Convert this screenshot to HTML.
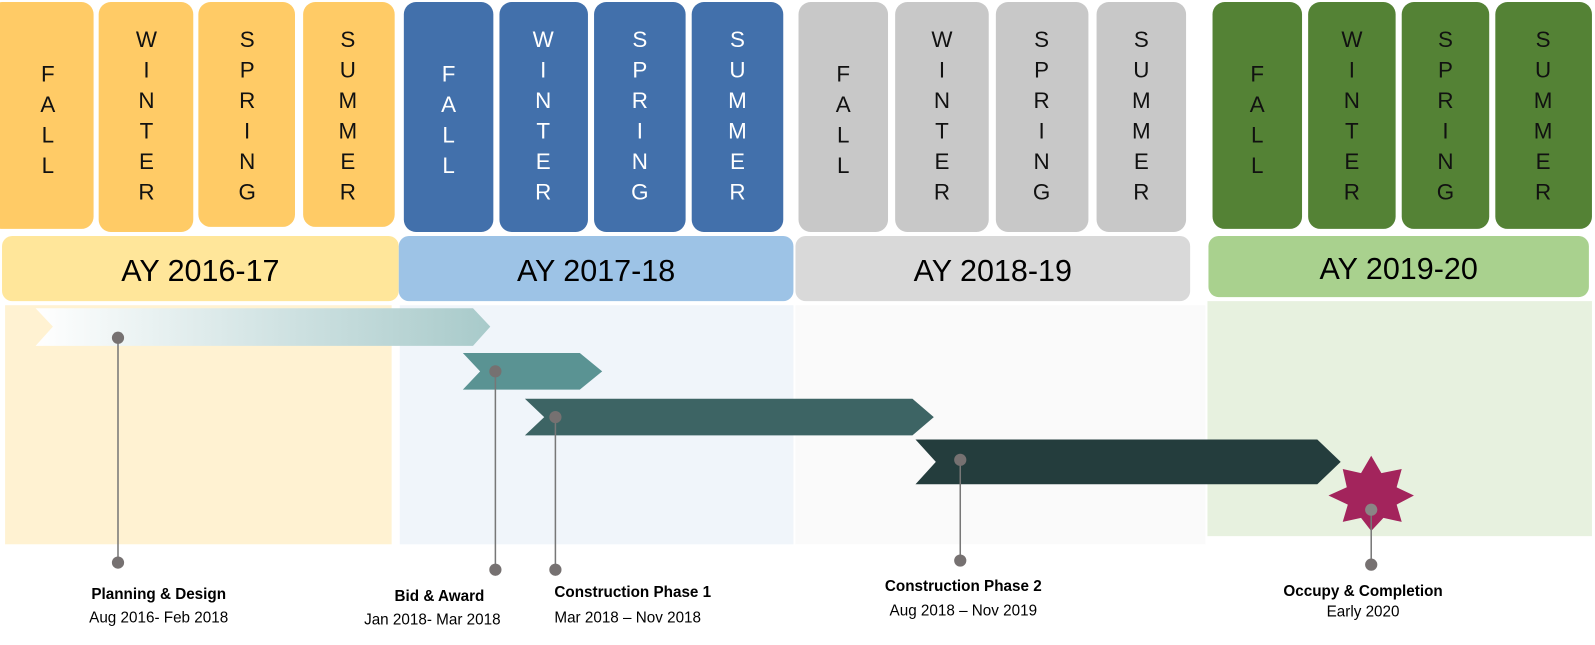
<!DOCTYPE html>
<html><head><meta charset="utf-8"><style>
html,body{margin:0;padding:0;background:#fff;overflow:hidden;}
svg{display:block;font-family:"Liberation Sans",sans-serif;}
</style></head><body>
<svg width="1595" height="645" viewBox="0 0 1568 634" preserveAspectRatio="none" xmlns="http://www.w3.org/2000/svg">
<defs>
<linearGradient id="g1" x1="0" x2="1" y1="0" y2="0">
<stop offset="0" stop-color="#ffffff"/><stop offset="1" stop-color="#a8caca"/>
</linearGradient>
</defs>
<rect x="5" y="300" width="380" height="235" fill="#FFF2D2"/>
<rect x="393" y="300" width="387" height="235" fill="#F0F5FA"/>
<rect x="782" y="300" width="403" height="235" fill="#FAFAFA"/>
<rect x="1187" y="296" width="378" height="231" fill="#E7F1DF"/>
<g fill="#FFCB66">
<rect x="-10" y="2" width="102" height="223" rx="12"/>
<rect x="97" y="2" width="93" height="226" rx="12"/>
<rect x="195" y="2" width="95" height="221" rx="12"/>
<rect x="298" y="2" width="90" height="221" rx="12"/>
</g>
<g fill="#4270AB">
<rect x="397" y="2" width="88" height="226" rx="12"/>
<rect x="491" y="2" width="87" height="226" rx="12"/>
<rect x="584" y="2" width="90" height="226" rx="12"/>
<rect x="680" y="2" width="90" height="226" rx="12"/>
</g>
<g fill="#C8C8C8">
<rect x="785" y="2" width="88" height="226" rx="12"/>
<rect x="880" y="2" width="92" height="226" rx="12"/>
<rect x="979" y="2" width="91" height="226" rx="12"/>
<rect x="1078" y="2" width="88" height="226" rx="12"/>
</g>
<g fill="#548235">
<rect x="1192" y="2" width="88" height="223" rx="12"/>
<rect x="1286" y="2" width="86" height="223" rx="12"/>
<rect x="1378" y="2" width="86" height="223" rx="12"/>
<rect x="1470" y="2" width="95" height="223" rx="12"/>
</g>
<g font-size="22" text-anchor="middle" fill="#111">
<text><tspan x="47" y="80">F</tspan><tspan x="47" y="110">A</tspan><tspan x="47" y="140">L</tspan><tspan x="47" y="170">L</tspan></text>
<text><tspan x="144" y="46">W</tspan><tspan x="144" y="76">I</tspan><tspan x="144" y="106">N</tspan><tspan x="144" y="136">T</tspan><tspan x="144" y="166">E</tspan><tspan x="144" y="196">R</tspan></text>
<text><tspan x="243" y="46">S</tspan><tspan x="243" y="76">P</tspan><tspan x="243" y="106">R</tspan><tspan x="243" y="136">I</tspan><tspan x="243" y="166">N</tspan><tspan x="243" y="196">G</tspan></text>
<text><tspan x="342" y="46">S</tspan><tspan x="342" y="76">U</tspan><tspan x="342" y="106">M</tspan><tspan x="342" y="136">M</tspan><tspan x="342" y="166">E</tspan><tspan x="342" y="196">R</tspan></text>
</g>
<g font-size="22" text-anchor="middle" fill="#fff">
<text><tspan x="441" y="80">F</tspan><tspan x="441" y="110">A</tspan><tspan x="441" y="140">L</tspan><tspan x="441" y="170">L</tspan></text>
<text><tspan x="534" y="46">W</tspan><tspan x="534" y="76">I</tspan><tspan x="534" y="106">N</tspan><tspan x="534" y="136">T</tspan><tspan x="534" y="166">E</tspan><tspan x="534" y="196">R</tspan></text>
<text><tspan x="629" y="46">S</tspan><tspan x="629" y="76">P</tspan><tspan x="629" y="106">R</tspan><tspan x="629" y="136">I</tspan><tspan x="629" y="166">N</tspan><tspan x="629" y="196">G</tspan></text>
<text><tspan x="725" y="46">S</tspan><tspan x="725" y="76">U</tspan><tspan x="725" y="106">M</tspan><tspan x="725" y="136">M</tspan><tspan x="725" y="166">E</tspan><tspan x="725" y="196">R</tspan></text>
</g>
<g font-size="22" text-anchor="middle" fill="#111">
<text><tspan x="829" y="80">F</tspan><tspan x="829" y="110">A</tspan><tspan x="829" y="140">L</tspan><tspan x="829" y="170">L</tspan></text>
<text><tspan x="926" y="46">W</tspan><tspan x="926" y="76">I</tspan><tspan x="926" y="106">N</tspan><tspan x="926" y="136">T</tspan><tspan x="926" y="166">E</tspan><tspan x="926" y="196">R</tspan></text>
<text><tspan x="1024" y="46">S</tspan><tspan x="1024" y="76">P</tspan><tspan x="1024" y="106">R</tspan><tspan x="1024" y="136">I</tspan><tspan x="1024" y="166">N</tspan><tspan x="1024" y="196">G</tspan></text>
<text><tspan x="1122" y="46">S</tspan><tspan x="1122" y="76">U</tspan><tspan x="1122" y="106">M</tspan><tspan x="1122" y="136">M</tspan><tspan x="1122" y="166">E</tspan><tspan x="1122" y="196">R</tspan></text>
<text><tspan x="1236" y="80">F</tspan><tspan x="1236" y="110">A</tspan><tspan x="1236" y="140">L</tspan><tspan x="1236" y="170">L</tspan></text>
<text><tspan x="1329" y="46">W</tspan><tspan x="1329" y="76">I</tspan><tspan x="1329" y="106">N</tspan><tspan x="1329" y="136">T</tspan><tspan x="1329" y="166">E</tspan><tspan x="1329" y="196">R</tspan></text>
<text><tspan x="1421" y="46">S</tspan><tspan x="1421" y="76">P</tspan><tspan x="1421" y="106">R</tspan><tspan x="1421" y="136">I</tspan><tspan x="1421" y="166">N</tspan><tspan x="1421" y="196">G</tspan></text>
<text><tspan x="1517" y="46">S</tspan><tspan x="1517" y="76">U</tspan><tspan x="1517" y="106">M</tspan><tspan x="1517" y="136">M</tspan><tspan x="1517" y="166">E</tspan><tspan x="1517" y="196">R</tspan></text>
</g>
<rect x="2" y="232" width="390" height="64" rx="10" fill="#FFE69A"/>
<rect x="392" y="232" width="388" height="64" rx="10" fill="#9DC3E6"/>
<rect x="782" y="232" width="388" height="64" rx="10" fill="#D9D9D9"/>
<rect x="1188" y="232" width="374" height="60" rx="10" fill="#A9D18E"/>
<g font-size="30" text-anchor="middle" fill="#000">
<text x="197" y="276">AY 2016-17</text>
<text x="586" y="276">AY 2017-18</text>
<text x="976" y="276">AY 2018-19</text>
<text x="1375" y="274">AY 2019-20</text>
</g>
<polygon points="35,303 465,303 482,321 465,340 35,340 52,321" fill="url(#g1)"/>
<polygon points="455,347 570,347 592,365 570,383 455,383 472,365" fill="#5A9393"/>
<polygon points="516,392 897,392 918,410 897,428 516,428 535,410" fill="#3D6464"/>
<polygon points="900,432 1295,432 1318,454 1295,476 900,476 920,454" fill="#243D3D"/>
<polygon fill="#A3245C" points="1348,448 1358,465 1378,461 1373,479 1390,487 1373,496 1378,513 1360,509 1348,522 1338,509 1320,513 1325,496 1306,487 1324,479 1320,461 1338,465"/>
<g stroke="#777" stroke-width="1.5">
<line x1="116" y1="332" x2="116" y2="553"/>
<line x1="487" y1="365" x2="487" y2="560"/>
<line x1="546" y1="410" x2="546" y2="560"/>
<line x1="944" y1="452" x2="944" y2="551"/>
<line x1="1348" y1="501" x2="1348" y2="555"/>
</g>
<g fill="#767171">
<circle cx="116" cy="332" r="6"/><circle cx="116" cy="553" r="6"/>
<circle cx="487" cy="365" r="6"/><circle cx="487" cy="560" r="6"/>
<circle cx="546" cy="410" r="6"/><circle cx="546" cy="560" r="6"/>
<circle cx="944" cy="452" r="6"/><circle cx="944" cy="551" r="6"/>
<circle cx="1348" cy="501" r="6" fill="#8a8585"/><circle cx="1348" cy="555" r="6"/>
</g>
<g font-size="15" fill="#000">
<text x="156" y="589" text-anchor="middle" font-weight="bold">Planning &amp; Design</text>
<text x="156" y="612" text-anchor="middle">Aug 2016- Feb 2018</text>
<text x="432" y="591" text-anchor="middle" font-weight="bold">Bid &amp; Award</text>
<text x="425" y="614" text-anchor="middle">Jan 2018- Mar 2018</text>
<text x="545" y="587" font-weight="bold">Construction Phase 1</text>
<text x="545" y="612">Mar 2018 – Nov 2018</text>
<text x="947" y="581" text-anchor="middle" font-weight="bold">Construction Phase 2</text>
<text x="947" y="605" text-anchor="middle">Aug 2018 – Nov 2019</text>
<text x="1340" y="586" text-anchor="middle" font-weight="bold">Occupy &amp; Completion</text>
<text x="1340" y="606" text-anchor="middle">Early 2020</text>
</g>
</svg>
</body></html>
